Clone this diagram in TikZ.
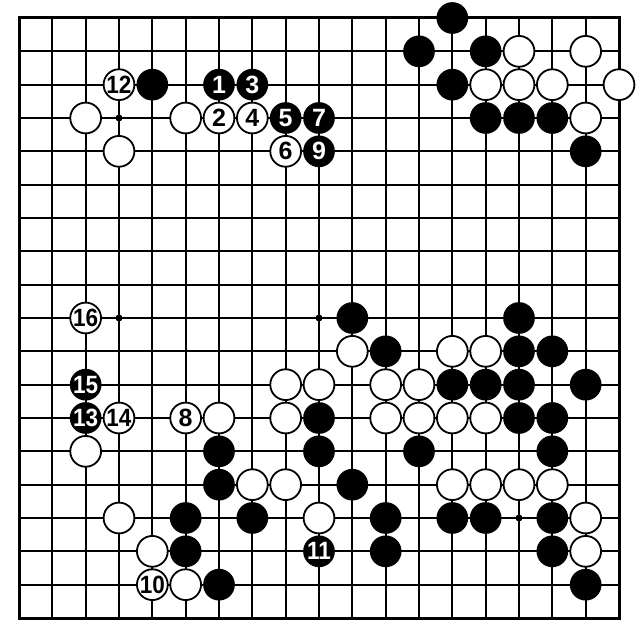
\documentclass[tikz,border=0pt]{standalone}
\usepackage{fontspec}
\setmainfont{Liberation Sans}
\usepackage{graphicx}
\newcommand\stonefont{\fontsize{25bp}{27bp}\selectfont\bfseries}
\begin{document}
\begin{tikzpicture}[x=33.333bp,y=-33.333bp,
  gridline/.style={line width=1.7bp,black},
  frame/.style={line width=3bp,black},
  stonebase/.style={circle,inner sep=0pt,minimum size=31.7bp},
  bs/.style={stonebase,fill=black,text=white},
  ws/.style={stonebase,fill=white,draw=black,line width=1.8bp,minimum size=30.8bp,text=black},
  hoshi/.style={circle,fill=black,inner sep=0pt,minimum size=7bp}]
\useasboundingbox (-0.57,-0.54) rectangle (18.63,18.66);
\fill[white] (-0.57,-0.54) rectangle (18.63,18.66);
% grid
\foreach \i in {1,...,17} {
  \draw[gridline] (\i,0) -- (\i,18);
  \draw[gridline] (0,\i) -- (18,\i);
}
\draw[frame] (0,0) rectangle (18,18);
% star points
\foreach \a in {3,9,15} \foreach \b in {3,9,15}
  \node[hoshi] (h-\a-\b) at (\a,\b) {};
% black stones (col/row)
\foreach \c/\r in {4/2,13/0,12/1,14/1,13/2,14/3,15/3,16/3,17/4,
  10/9,15/9,11/10,15/10,16/10,13/11,14/11,15/11,17/11,
  9/12,15/12,16/12,6/13,9/13,12/13,16/13,6/14,10/14,
  5/15,7/15,11/15,13/15,14/15,16/15,5/16,11/16,16/16,6/17,17/17}
  \node[bs] (b-\c-\r) at (\c,\r) {};
% white stones
\foreach \c/\r in {2/3,5/3,3/4,15/1,17/1,14/2,15/2,16/2,18/2,17/3,
  10/10,13/10,14/10,8/11,9/11,11/11,12/11,6/12,8/12,11/12,12/12,13/12,14/12,
  2/13,7/14,8/14,13/14,14/14,15/14,16/14,3/15,9/15,17/15,4/16,17/16,5/17}
  \node[ws] (w-\c-\r) at (\c,\r) {};
% numbered black stones
\foreach \c/\r/\n in {6/2/1,7/2/3,8/3/5,9/3/7,9/4/9}
  \node[bs] (m\n) at (\c,\r) {\stonefont\n};
\foreach \c/\r/\n in {9/16/11,2/12/13,2/11/15}
  \node[bs] (m\n) at (\c,\r) {\scalebox{0.9}[1]{\stonefont\n}};
% numbered white stones
\foreach \c/\r/\n in {6/3/2,7/3/4,8/4/6,5/12/8}
  \node[ws] (m\n) at (\c,\r) {\stonefont\n};
\foreach \c/\r/\n in {4/17/10,3/2/12,3/12/14,2/9/16}
  \node[ws] (m\n) at (\c,\r) {\scalebox{0.9}[1]{\stonefont\n}};
\end{tikzpicture}
\end{document}
